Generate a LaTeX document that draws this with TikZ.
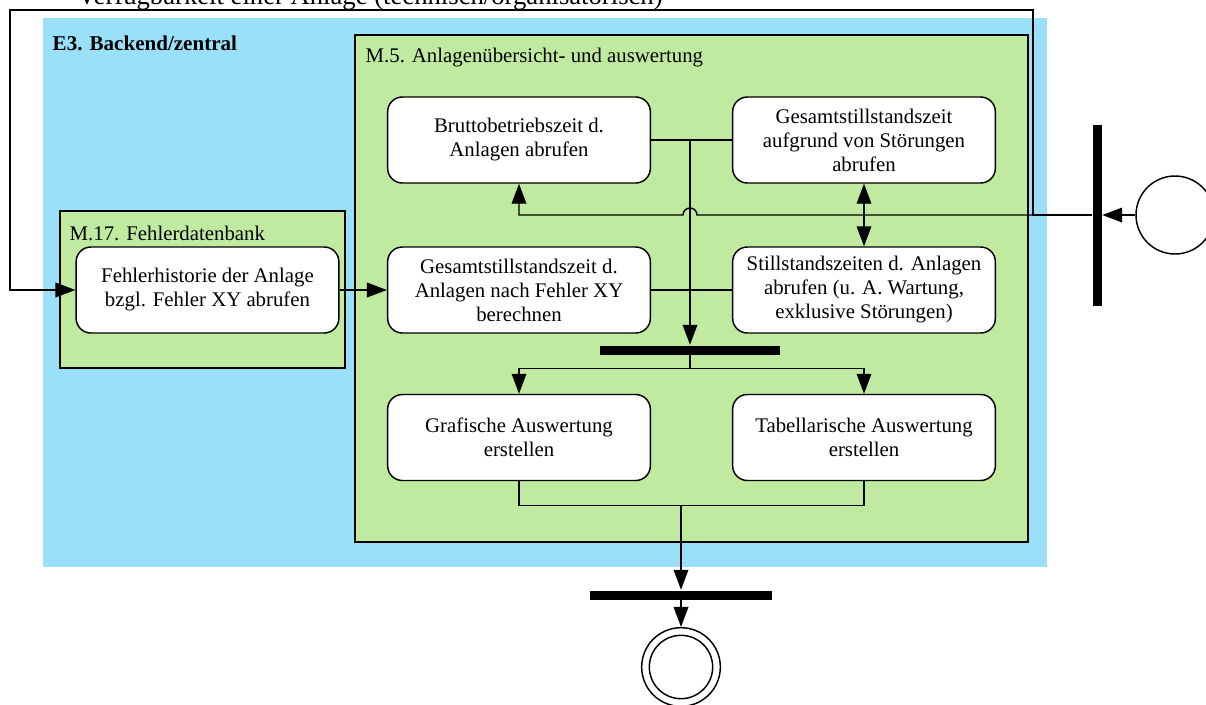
\documentclass[tikz,border=0pt]{standalone}
\usepackage{fontspec}
\setmainfont{Liberation Serif}
\usetikzlibrary{positioning,arrows.meta,calc}
\definecolor{zoneblue}{RGB}{155,224,249}
\definecolor{modgreen}{RGB}{192,234,160}

\begin{document}
\begin{tikzpicture}[
  x=0.75pt, y=-0.75pt,
  font=\fontsize{15.6}{18}\selectfont,
  act/.style={draw, fill=white, rounded corners=11pt, align=center,
              minimum width=197pt, minimum height=64.5pt, inner sep=2pt},
  lbl/.style={anchor=base west, inner sep=0pt},
  hbar/.style={fill=black, inner sep=0pt, minimum height=6.75pt},
  vbar/.style={fill=black, inner sep=0pt, minimum width=6.75pt},
  >={Triangle[length=15pt,width=11pt]},
  every path/.style={line width=1.1pt}
]
  \useasboundingbox (0,0) rectangle (1206,704);

  % zones
  \fill[zoneblue] (43,18) rectangle (1047,567);
  \draw[fill=modgreen] (355,35) rectangle (1028,542);
  \draw[fill=modgreen] (60,211) rectangle (345,368);

  \node[anchor=base, inner sep=0pt, font=\fontsize{20}{24}\selectfont] (title) at (370,4)
    {Verfügbarkeit einer Anlage (technisch/organisatorisch)};
  \node[lbl, font=\fontsize{15.8}{18}\selectfont\bfseries] (e3lbl) at (52,50) {E3. Backend/zentral};
  \node[lbl] (m5lbl)  at (365,62)  {M.5. Anlagenübersicht- und auswertung};
  \node[lbl] (m17lbl) at (69,240)  {M.17. Fehlerdatenbank};

  % activities
  \node[act] (fehler)  at (207.5,290) {Fehlerhistorie der Anlage\\bzgl. Fehler XY abrufen};
  \node[act] (brutto)  at (519,140)   {Bruttobetriebszeit d.\\Anlagen abrufen};
  \node[act] (gesamt)  at (864,140)   {Gesamtstillstandszeit\\aufgrund von Störungen\\abrufen};
  \node[act] (nach)    at (519,290)   {Gesamtstillstandszeit d.\\Anlagen nach Fehler XY\\berechnen};
  \node[act] (still)   at (864,290)   {Stillstandszeiten d. Anlagen\\abrufen (u. A. Wartung,\\exklusive Störungen)};
  \node[act] (grafik)  at (519,437.5) {Grafische Auswertung\\erstellen};
  \node[act] (tabelle) at (864,437.5) {Tabellarische Auswertung\\erstellen};

  % control nodes
  \node[circle, draw, minimum size=58.5pt, inner sep=0pt] (start) at (1175,215) {};
  \node[vbar, minimum height=135.75pt] (fork)  at (1097,215) {};
  \node[hbar, minimum width=135pt]     (join)  at (690,350)  {};
  \node[hbar, minimum width=136.5pt]   (merge) at (681,595)  {};
  \node[circle, draw, minimum size=59pt, inner sep=0pt] (end) at (681,667) {};
  \node[circle, draw, minimum size=47.5pt, inner sep=0pt] (endin) at (end) {};

  \coordinate (topright) at (1033,10);
  \coordinate (topleft)  at (10,10);

  % flows
  \draw[->] (start) -- (fork);
  \draw[->] (fork.west) -- ($(fork.west -| join)+(7,0)$)
    arc[start angle=0, end angle=180, radius=5.25pt] -| (brutto.south);
  \draw[<->] (gesamt) -- (still);
  \draw[->] (fork.west) -| (topright) -- (topleft) |- (fehler.west);
  \draw[->] (fehler) -- (nach);
  \draw (brutto) -- (gesamt);
  \draw (nach) -- (still);
  \draw[->] (brutto.east -| join) -- (join.north);
  \draw[->] (join.south) -- ++(0,13) -| (grafik.north);
  \draw[->] (join.south) -- ++(0,13) -| (tabelle.north);
  \draw (grafik.south) -- ++(0,24) -| (tabelle.south);
  \draw[->] ($(merge.north |- grafik.south)+(0,24)$) -- (merge.north);
  \draw[->] (merge.south) -- (end);
\end{tikzpicture}
\end{document}
